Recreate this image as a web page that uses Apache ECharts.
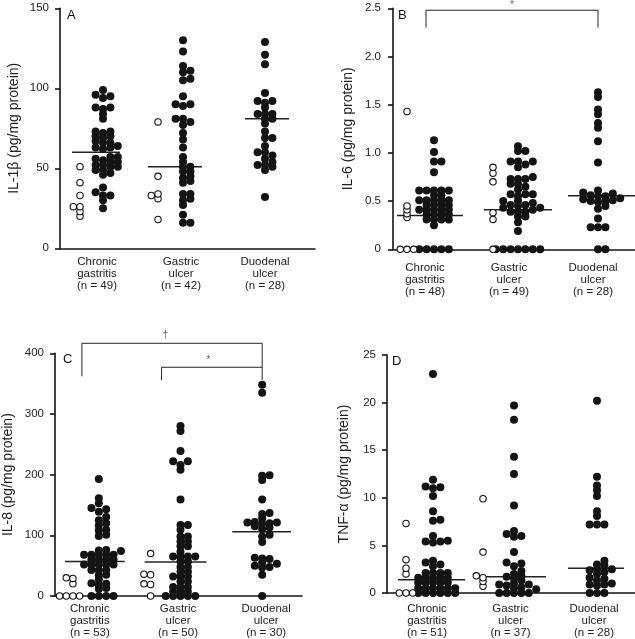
<!DOCTYPE html>
<html><head><meta charset="utf-8">
<script src="https://cdn.jsdelivr.net/npm/echarts@6/dist/echarts.min.js"></script>
<style>html,body{margin:0;padding:0;background:#fff}#c{width:635px;height:639px}</style>
</head><body><div id="c"></div>
<script>
const FONT = '"Liberation Sans", Arial, Helvetica, sans-serif';
const INK = '#141414';

// ---- categories & group sizes ----
const categories = ['Chronic\ngastritis', 'Gastric\nulcer', 'Duodenal\nulcer'];
const nA = [49, 42, 28];
const nB = [48, 49, 28];
const nC = [53, 50, 30];
const nD = [51, 37, 28];

// ---- A: IL-1beta ----
const il1b_cg = [99, 96, 95, 94, 88, 88, 87, 84, 81, 73, 73, 72, 70, 70, 69, 67, 66, 66, 64, 63, 63, 62, 57, 57, 56, 55, 54, 54, 52, 52, 51, 51, 49, 49, 47, 46, 38, 35, 33, 33, 30, 25];
const il1b_cg_open = [51, 41, 33, 26, 26, 23, 20];
const il1b_gu = [130, 123, 114, 111, 110, 106, 105, 95, 90, 90, 89, 81, 81, 79, 77, 72, 68, 63, 57, 54, 51, 51, 48, 48, 45, 44, 42, 41, 34, 34, 31, 30, 27, 21, 16, 16];
const il1b_gu_open = [79, 45, 34, 33, 31, 18];
const il1b_du = [129, 121, 115, 97, 92, 92, 91, 88, 84, 84, 84, 81, 81, 78, 73, 69, 69, 64, 60, 60, 58, 56, 54, 52, 52, 51, 49, 32];
const il1b_median = [60, 51, 81];

// ---- B: IL-6 ----
const il6_cg = [1.13, 1.01, 0.91, 0.91, 0.80, 0.61, 0.61, 0.61, 0.61, 0.61, 0.56, 0.56, 0.51, 0.51, 0.51, 0.51, 0.51, 0.46, 0.46, 0.46, 0.46, 0.41, 0.41, 0.41, 0.41, 0.41, 0.36, 0.36, 0.36, 0.36, 0.31, 0.31, 0.31, 0.31, 0.25, 0, 0, 0, 0, 0];
const il6_cg_open = [1.43, 0.45, 0.41, 0.37, 0.33, 0, 0, 0];
const il6_gu = [1.07, 1.02, 1.02, 0.91, 0.91, 0.91, 0.88, 0.85, 0.75, 0.73, 0.73, 0.73, 0.68, 0.68, 0.65, 0.62, 0.57, 0.57, 0.57, 0.55, 0.50, 0.50, 0.48, 0.46, 0.46, 0.45, 0.43, 0.43, 0.41, 0.39, 0.39, 0.39, 0.34, 0.34, 0.28, 0.19, 0, 0, 0, 0, 0, 0, 0];
const il6_gu_open = [0.85, 0.79, 0.70, 0.38, 0.31, 0];
const il6_du = [1.63, 1.58, 1.45, 1.40, 1.31, 1.26, 1.12, 0.90, 0.61, 0.59, 0.58, 0.56, 0.55, 0.55, 0.53, 0.52, 0.51, 0.50, 0.50, 0.49, 0.45, 0.42, 0.32, 0.23, 0.23, 0.23, 0, 0];
const il6_median = [0.35, 0.41, 0.555];

// ---- C: IL-8 ----
const il8_cg = [193, 161, 153, 145, 143, 139, 130, 125, 120, 116, 109, 108, 101, 99, 76, 75, 74, 68, 68, 68, 68, 68, 60, 60, 60, 60, 52, 52, 52, 52, 52, 43, 43, 43, 35, 34, 27, 21, 20, 19, 13, 12, 0, 0, 0, 0];
const il8_cg_open = [30, 29, 20, 0, 0, 0, 0];
const il8_gu = [280, 272, 239, 222, 222, 216, 208, 159, 117, 117, 109, 98, 98, 90, 90, 82, 82, 73, 65, 65, 65, 65, 57, 57, 48, 48, 40, 40, 32, 32, 32, 24, 24, 15, 15, 15, 7, 7, 7, 0, 0, 0, 0, 0];
const il8_gu_open = [70, 36, 35, 20, 19, 0];
const il8_du = [348, 335, 199, 198, 191, 159, 137, 135, 128, 122, 121, 121, 120, 119, 115, 113, 110, 101, 98, 89, 63, 62, 61, 55, 53, 50, 48, 47, 35, 0];
const il8_median = [57, 56, 106];

// ---- D: TNF-alpha ----
const tnf_cg = [23.0, 11.9, 11.2, 11.1, 11.0, 10.2, 8.6, 7.7, 7.6, 6.0, 5.5, 5.4, 5.4, 5.3, 3.4, 3.2, 3.0, 2.8, 2.1, 2.1, 2.1, 2.1, 1.6, 1.6, 1.6, 1.6, 1.6, 1.1, 1.1, 1.1, 1.1, 1.1, 0.5, 0.5, 0.5, 0.5, 0.5, 0.5, 0, 0, 0, 0, 0, 0];
const tnf_cg_open = [7.3, 3.5, 2.6, 2.0, 0, 0, 0];
const tnf_gu = [19.7, 18.2, 14.3, 12.5, 9.2, 6.5, 6.2, 6.0, 5.9, 4.3, 3.2, 3.1, 2.8, 2.3, 2.0, 1.8, 1.7, 1.5, 1.3, 1.0, 0.9, 0.9, 0.8, 0.6, 0.5, 0.4, 0, 0, 0, 0, 0];
const tnf_gu_open = [9.9, 4.3, 1.8, 1.6, 1.2, 0.7];
const tnf_du = [20.2, 12.2, 11.3, 10.8, 10.2, 8.6, 8.1, 7.2, 7.2, 7.2, 3.4, 3.0, 2.9, 2.5, 2.5, 2.4, 2.2, 2.0, 1.6, 1.5, 1.3, 1.0, 0.9, 0.9, 0.8, 0, 0, 0];
const tnf_median = [1.4, 1.7, 2.6];

// ---- panel layout (pixels) ----
const panels = [
  { letter: 'A', yName: 'IL-1β (pg/mg protein)', yMax: 150, yInt: 50, n: nA,
    filled: [il1b_cg, il1b_gu, il1b_du], open: [il1b_cg_open, il1b_gu_open], median: il1b_median,
    left: 60, top: 8.3, width: 255, height: 240, cat1: 97, cat3: 265,
    fOff: [6, 2, 0], oOff: [-17, -23], medL: [-25, -33, -20], medR: [23, 21, 24],
    xMargin: 8, yMargin: 11, nameGap: 39, letterPos: [67, 9], brackets: [] },
  { letter: 'B', yName: 'IL-6 (pg/mg protein)', yMax: 2.5, yInt: 0.5, n: nB,
    filled: [il6_cg, il6_gu, il6_du], open: [il6_cg_open, il6_gu_open], median: il6_median,
    left: 393, top: 8.3, width: 242, height: 241, cat1: 425, cat3: 593,
    fOff: [9, 9, 5], oOff: [-18, -16], medL: [-28, -25, -25], medR: [38, 43, 42],
    xMargin: 13, yMargin: 12, nameGap: 38, letterPos: [398, 9],
    brackets: [{ pts: [[1, 1, 2.30], [1, 1, 2.48], [3, 5, 2.48], [3, 5, 2.30]], mark: '*', markAt: [2, 3, 2.535] }] },
  { letter: 'C', yName: 'IL-8 (pg/mg protein)', yMax: 400, yInt: 100, n: nC,
    filled: [il8_cg, il8_gu, il8_du], open: [il8_cg_open, il8_gu_open], median: il8_median,
    left: 54, top: 353.3, width: 248, height: 242.7, cat1: 89, cat3: 266,
    fOff: [9, 2.5, -4], oOff: [-17, -27.5], medL: [-25, -33.5, -34], medR: [35, 28.5, 25],
    xMargin: 7, yMargin: 11, nameGap: 40, letterPos: [63, 353],
    brackets: [
      { pts: [[1, -8, 362], [1, -8, 416.5], [3, -4, 416.5], [3, -4, 356]], mark: '†', markAt: [2, -12.5, 430] },
      { pts: [[2, -16.5, 355.6], [2, -16.5, 377], [3, -4, 377]], mark: '*', markAt: [2, 30.5, 388] }
    ] },
  { letter: 'D', yName: 'TNF-α (pg/mg protein)', yMax: 25, yInt: 5, n: nD,
    filled: [tnf_cg, tnf_gu, tnf_du], open: [tnf_cg_open, tnf_gu_open], median: tnf_median,
    left: 387, top: 355, width: 248, height: 242.3, cat1: 427, cat3: 594,
    fOff: [6, 3.5, 3], oOff: [-21, -27.5], medL: [-29, -35.5, -26], medR: [38, 35.5, 30],
    xMargin: 10, yMargin: 11, nameGap: 36, letterPos: [392, 355], brackets: [] }
];

// column-based beeswarm: returns [[columnIndex, value], ...]
function swarm(values, pxPerY, minDy, preferRight) {
  const sorted = values.slice().sort((a, b) => a - b);
  const cols = {};
  const out = [];
  sorted.forEach(v => {
    const y = v * pxPerY;
    for (let k = 0; k < 60; k++) {
      const m = Math.ceil(k / 2);
      let col = k === 0 ? 0 : (k % 2 === 1 ? m : -m);
      if (!preferRight) col = -col;
      const list = cols[col] || (cols[col] = []);
      if (list.every(yy => Math.abs(yy - y) >= minDy - 1e-9)) {
        list.push(y); out.push([col, v]); break;
      }
    }
  });
  return out;
}

const FILLED_COL = 7.4, OPEN_COL = 6.7;
const grids = [], xAxes = [], yAxes = [], series = [], graphics = [];

panels.forEach((p, i) => {
  const unit = (p.cat3 - p.cat1) / 2;
  const xmin = 1 - (p.cat1 - p.left) / unit;
  const xmax = xmin + p.width / unit;
  const pxY = p.height / p.yMax;
  const labels = categories.map((c, g) => c + '\n(n = ' + p.n[g] + ')');

  grids.push({ left: p.left, top: p.top, width: p.width, height: p.height });
  xAxes.push({
    gridIndex: i, type: 'value', min: xmin, max: xmax,
    axisLine: { show: true, onZero: false, lineStyle: { color: INK, width: 1.6 } },
    axisTick: { show: false }, splitLine: { show: false },
    axisLabel: { customValues: [1, 2, 3], formatter: v => labels[Math.round(v) - 1] || '',
      fontSize: 11.5, lineHeight: 12, color: '#222', fontFamily: FONT, margin: p.xMargin }
  });
  yAxes.push({
    gridIndex: i, type: 'value', min: 0, max: p.yMax, interval: p.yInt,
    axisLine: { show: true, onZero: false, lineStyle: { color: INK, width: 1.6 } },
    axisTick: { show: true, inside: false, length: 5, lineStyle: { color: INK, width: 1.6 } },
    splitLine: { show: false },
    axisLabel: { fontSize: 11.5, color: '#222', fontFamily: FONT, margin: p.yMargin,
      formatter: v => (p.yInt < 1 ? (v === 0 ? '0' : v.toFixed(1)) : String(v)) },
    name: p.yName, nameLocation: 'middle', nameGap: p.nameGap, nameRotate: 90,
    nameTextStyle: { fontSize: 14, color: '#222', fontFamily: FONT }
  });

  // filled dots
  const fData = [];
  p.filled.forEach((vals, g) => {
    swarm(vals, pxY, 4, true).forEach(([c, v]) => {
      fData.push([g + 1 + (p.fOff[g] + c * FILLED_COL) / unit, v]);
    });
  });
  // open dots
  const oData = [];
  p.open.forEach((vals, g) => {
    swarm(vals, pxY, 3.8, false).forEach(([c, v]) => {
      oData.push([g + 1 + (p.oOff[g] + c * OPEN_COL) / unit, v]);
    });
  });
  // medians
  p.median.forEach((m, g) => {
    series.push({ type: 'line', xAxisIndex: i, yAxisIndex: i, z: 2, silent: true,
      symbol: 'none', lineStyle: { color: '#222', width: 1.5 },
      data: [[g + 1 + p.medL[g] / unit, m], [g + 1 + p.medR[g] / unit, m]] });
  });
  series.push({ type: 'scatter', xAxisIndex: i, yAxisIndex: i, z: 3, symbol: 'circle',
    symbolSize: 8, itemStyle: { color: INK, opacity: 1 }, data: fData, clip: false });
  series.push({ type: 'scatter', xAxisIndex: i, yAxisIndex: i, z: 4, symbol: 'circle',
    symbolSize: 6.4, itemStyle: { color: '#fff', borderColor: INK, borderWidth: 1.1, opacity: 1 },
    data: oData, clip: false });

  // significance brackets
  p.brackets.forEach(b => {
    series.push({ type: 'line', xAxisIndex: i, yAxisIndex: i, clip: false, silent: true,
      symbol: 'none', lineStyle: { color: '#222', width: 1 },
      data: b.pts.map(([c, off, v]) => [c + off / unit, v]) });
    series.push({ type: 'scatter', xAxisIndex: i, yAxisIndex: i, clip: false, silent: true,
      symbolSize: 0, itemStyle: { color: 'rgba(0,0,0,0)' },
      label: { show: true, position: 'inside', formatter: b.mark, fontSize: 10, color: '#333', fontFamily: FONT },
      data: [[b.markAt[0] + b.markAt[1] / unit, b.markAt[2]]] });
  });

  graphics.push({ type: 'text', left: p.letterPos[0], top: p.letterPos[1],
    style: { text: p.letter, fontSize: 13, fill: '#111', fontFamily: FONT } });
});

const chart = echarts.init(document.getElementById('c'));
chart.setOption({
  animation: false,
  backgroundColor: '#fff',
  textStyle: { fontFamily: FONT },
  grid: grids, xAxis: xAxes, yAxis: yAxes, series: series, graphic: graphics
});
</script></body></html>
